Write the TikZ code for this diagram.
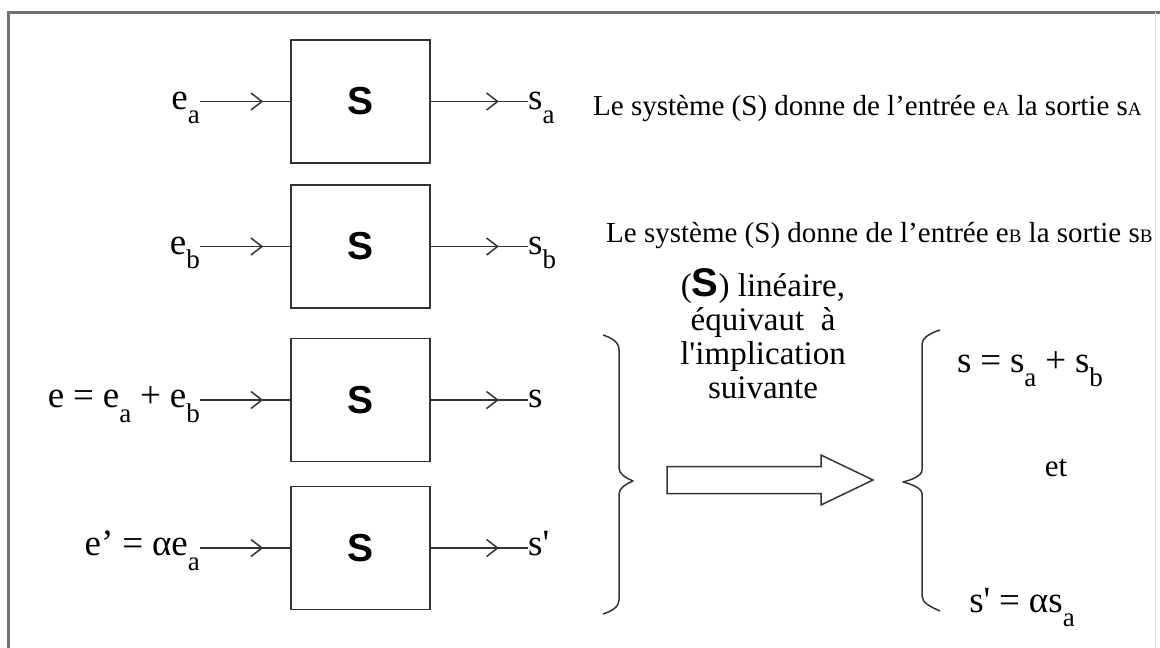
\documentclass[tikz,border=0pt]{standalone}
\usepackage{fontspec}
\setmainfont{Liberation Serif}[Ligatures=TeXOff]
\newfontfamily\sansb{Liberation Sans}[Ligatures=TeXOff]
\usetikzlibrary{arrows.meta,decorations.markings}
\newcommand{\sbs}[1]{\raisebox{-0.4em}{\fontsize{27}{27}\selectfont #1}}
\newcommand{\smA}{{\fontsize{19}{19}\selectfont A}}
\newcommand{\smB}{{\fontsize{19}{19}\selectfont B}}
\newcommand{\ts}{\hspace{0.24em}}
\begin{document}
\begin{tikzpicture}[x=1pt,y=-1pt,
  sysbox/.style={draw=black!80, line width=1.5pt, minimum width=139pt, minimum height=123pt, inner sep=0pt,
    font=\sansb\bfseries\fontsize{39}{39}\selectfont},
  lbl/.style={inner sep=0pt, font=\fontsize{37}{40}\selectfont},
  conn/.style={draw=black!80, line width=1.5pt},
  midarrow/.style={conn, postaction={decorate}, decoration={markings,
    mark=at position #1 with {\arrow{Straight Barb[length=11pt,width=17pt,line width=1.5pt]}}}},
  desc/.style={inner sep=0pt, font=\fontsize{29}{29}\selectfont},
  brace/.style={draw=black!80, line width=1.5pt, line join=round}
]
\useasboundingbox (0,0) rectangle (1160,648);
% frame
\draw[black!55, line width=3pt] (8,660) -- (8,12) -- (1165,12);
\draw[black!15, line width=1pt] (1155,12) -- (1155,660);

% boxes
\node[sysbox] (b1) at (360.5,101.5) {S};
\node[sysbox] (b2) at (360.5,246.5) {S};
\node[sysbox] (b3) at (360.5,400) {S};
\node[sysbox] (b4) at (360.5,548) {S};

% input labels
\node[lbl, anchor=base east] (in1) at (200,109) {e\sbs{a}};
\node[lbl, anchor=base east] (in2) at (200,254) {e\sbs{b}};
\node[lbl, anchor=base east] (in3) at (200,407.5) {e\ts=\ts e\sbs{a}\ts+\ts e\sbs{b}};
\node[lbl, anchor=base east] (in4) at (200,555.5) {e’\ts=\ts αe\sbs{a}};

% output labels
\node[lbl, anchor=base west] (out1) at (528,109) {s\sbs{a}};
\node[lbl, anchor=base west] (out2) at (528,254) {s\sbs{b}};
\node[lbl, anchor=base west] (out3) at (528,407.5) {s};
\node[lbl, anchor=base west] (out4) at (528,555.5) {s'};

% connectors
\foreach \i in {1,2,3,4}{
  \draw[midarrow=0.7] (in\i.east |- b\i.west) -- (b\i.west);
  \draw[midarrow=0.7] (b\i.east) -- (b\i.east -| out\i.west);
}

% descriptions
\node[desc, anchor=base west] (d1) at (593,115) {Le système (S) donne de l’entrée e\smA{} la sortie s\smA};
\node[desc, anchor=base west] (d2) at (606,242) {Le système (S) donne de l’entrée e\smB{} la sortie s\smB};

% middle text
\node[align=center, inner sep=0pt, font=\fontsize{33}{34}\selectfont] (mid) at (763,334)
  {({\sansb\bfseries\fontsize{40}{40}\selectfont S})~linéaire,\\ équivaut~~à\\ l'implication\\ suivante};

% closing brace
\draw[brace] (603,335) .. controls (612,338) and (619,342) .. (619,350) -- (619,468)
  .. controls (619,474) and (626,478) .. (633,481) .. controls (626,484) and (619,488) .. (619,494)
  -- (619,600) .. controls (619,607) and (612,611) .. (603,614);
% hollow arrow
\draw[conn, fill=white, line join=miter] (667,466.5) -- (821,466.5) -- (821,455) -- (873,480) -- (821,505) -- (821,493.5) -- (667,493.5) -- cycle;
% opening brace
\draw[brace] (940,330) .. controls (931,333) and (922,337) .. (922,345) -- (922,470)
  .. controls (922,476) and (911,480) .. (903,482) .. controls (911,484) and (922,488) .. (922,494)
  -- (922,596) .. controls (922,603) and (931,607) .. (940,611);

% right formulas
\node[lbl, anchor=base] (f1) at (1030,372) {s\ts=\ts s\sbs{a}\ts+\ts s\sbs{b}};
\node[lbl, anchor=base, font=\fontsize{31}{31}\selectfont] (f2) at (1056,476) {et};
\node[lbl, anchor=base] (f3) at (1022,612) {s'\ts=\ts αs\sbs{a}};
\end{tikzpicture}
\end{document}
